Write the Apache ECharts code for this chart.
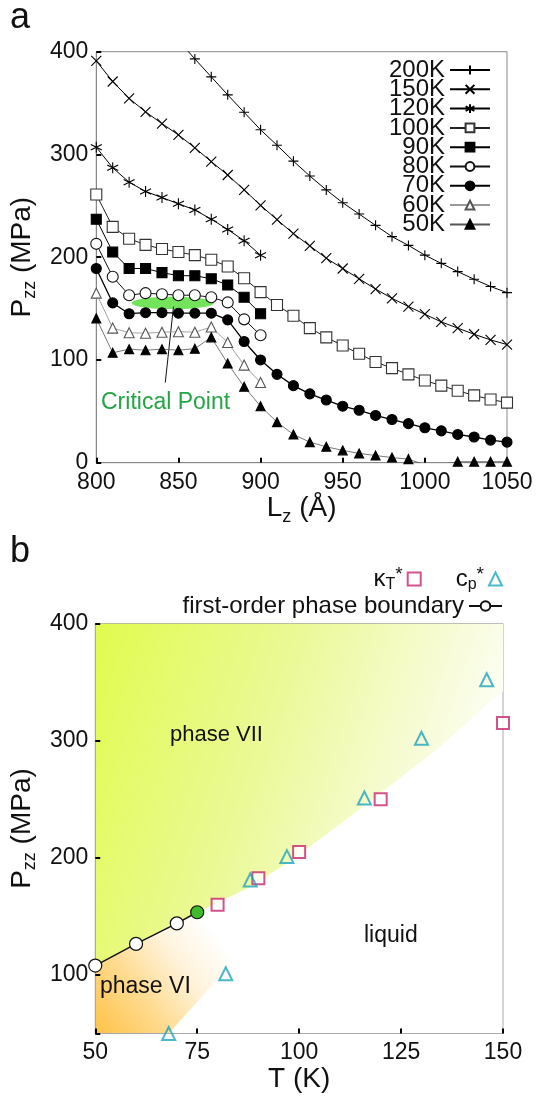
<!DOCTYPE html>
<html>
<head>
<meta charset="utf-8">
<script src="https://cdn.jsdelivr.net/npm/echarts@6/dist/echarts.min.js"></script>
<style>
  html, body { margin: 0; padding: 0; background: #fff; }
  #chart { width: 538px; height: 1100px; }
</style>
</head>
<body>
<div id="chart"></div>
<script>
// panel a: Pzz vs Lz isotherms
const lz = [800, 810, 820, 830, 840, 850, 860, 870, 880, 890, 900, 910, 920, 930, 940, 950, 960, 970, 980, 990, 1000, 1010, 1020, 1030, 1040, 1050];
const lzShort = [800, 810, 820, 830, 840, 850, 860, 870, 880, 890, 900];
const p200 = [null, null, null, null, null, 411, 393, 375.5, 358, 341, 324, 309, 293.5, 279, 265.5, 253, 242, 231, 220, 211.5, 202, 194, 186, 178.5, 171.5, 165.5];
const p150 = [391, 371, 354.5, 341.5, 330, 319, 306.5, 293, 280, 265.5, 250.5, 236.5, 223, 211, 199, 189, 179, 169, 160, 152, 144.5, 137, 131, 125, 119.5, 115];
const p120 = [307, 287, 273, 264, 258, 252, 246, 237, 227, 216, 202];
const p100 = [261, 229.5, 218, 212, 208, 205, 202, 197.5, 191, 179.5, 166, 153.5, 143, 131, 122, 114, 106, 98, 92, 86, 80, 75, 70, 65.5, 61.5, 58.5];
const p90 = [237, 205, 189, 189, 185, 182, 182, 179, 173, 161, 145];
const p80 = [213, 181, 163, 165, 164, 163, 163, 161, 156, 139.5, 124];
const p70 = [189, 155.5, 145, 146, 146, 145.5, 145.5, 145.5, 139, 118, 100, 86, 75, 67, 61, 55, 51, 46, 42, 38, 34, 31, 27.5, 25, 22, 20];
const p60 = [165, 131, 126.5, 126, 127, 127.5, 127, 132, 117, 95, 78];
const p50 = [140.5, 107, 110.5, 109.5, 110.5, 109.5, 111, 122, 96.5, 74, 55, 39.5, 27.5, 20, 15.5, 12, 9, 7, 5, 3.5, -2, -2, 1, 1, 1, 1];
// critical point ellipse: [Lz, Pzz, width in Å, height in MPa]
const criticalSpot = [[846.5, 155.5, 50, 12]];
const criticalPointer = [[847, 152], [842, 78]];

// panel b: phase diagram
const boundary = [[50, 108], [60, 126.5], [70, 144], [75, 153.5]];
const kappaT = [[80, 160], [90, 182.5], [100, 205], [120, 250], [150, 315]];
const cpPeak = [[68, 50], [82, 101], [88, 181], [97, 201], [116, 251], [130, 302], [146, 352]];
const phase7Region = [[50, 108], [60, 126.5], [70, 144], [75, 153.5], [88, 175], [98, 198], [109, 226], [121, 258], [134, 293], [148, 337], [150, 342], [150, 400], [50, 400]];
const phase6Region = [[50, 50], [50, 108], [60, 126.5], [70, 144], [75, 153.5], [84, 112], [68, 50]];

const FONT = 'Liberation Sans, Arial, sans-serif';

function zip(xs, ys) {
  return xs.map((x, i) => [x, ys[i]]);
}

const plusPath = 'path://M5,0L5,10M0,5L10,5';
const crossPath = 'path://M0,0L10,10M0,10L10,0';
const starPath = 'path://M5,0L5,10M0.7,2.5L9.3,7.5M0.7,7.5L9.3,2.5';

function iso(name, xs, ys, symbol, size, fill, stroke, lineColor, lineWidth) {
  return {
    name: name,
    type: 'line',
    xAxisIndex: 0,
    yAxisIndex: 0,
    data: zip(xs, ys),
    symbol: symbol,
    symbolSize: size,
    showSymbol: true,
    connectNulls: false,
    clip: true,
    lineStyle: { color: lineColor, width: lineWidth },
    itemStyle: { color: fill, borderColor: stroke, borderWidth: 1.1 },
    emphasis: { disabled: true },
    z: 5
  };
}

function regionSeries(points, gradient) {
  return {
    type: 'custom',
    xAxisIndex: 1,
    yAxisIndex: 1,
    silent: true,
    clip: true,
    z: 0,
    data: [[50, 50]],
    renderItem: function (params, api) {
      return {
        type: 'polygon',
        shape: { points: points.map(p => api.coord(p)) },
        style: { fill: gradient, stroke: null }
      };
    }
  };
}

const yellowFade = new echarts.graphic.LinearGradient(0, 0.1, 1, 0.5, [
  { offset: 0, color: '#e2fb52' },
  { offset: 0.45, color: '#ecf99a' },
  { offset: 0.8, color: '#f8fcdc' },
  { offset: 1, color: '#ffffff' }
]);
const orangeFade = new echarts.graphic.LinearGradient(0, 1, 0.9, 0.2, [
  { offset: 0, color: '#ffc247' },
  { offset: 0.35, color: '#ffd98a' },
  { offset: 0.7, color: '#fff3dc' },
  { offset: 1, color: '#ffffff' }
]);

const tickFormat = v => String(v);

const axisCommon = {
  axisLine: { lineStyle: { color: '#888', width: 1 } },
  axisTick: { inside: true, length: 5, lineStyle: { color: '#000', width: 2 } },
  axisLabel: { color: '#111', fontSize: 23, fontFamily: FONT, margin: 8, formatter: tickFormat },
  splitLine: { show: false }
};

const nameRich = {
  t: { fontSize: 28, fontFamily: FONT, color: '#111', lineHeight: 34 },
  s: { fontSize: 18, fontFamily: FONT, color: '#111', lineHeight: 18, verticalAlign: 'bottom' }
};

const legendNames = {
  kappaT: '{n|κ}{s|T}{u|*}',
  cp: '{n|c}{s|p}{u|*}',
  boundary: '{n|first-order phase boundary}'
};
const legendRich = {
  n: { fontSize: 24, fontFamily: FONT, color: '#111', lineHeight: 28 },
  s: { fontSize: 16, fontFamily: FONT, color: '#111', lineHeight: 16, verticalAlign: 'bottom' },
  u: { fontSize: 19, fontFamily: FONT, color: '#111', lineHeight: 19, verticalAlign: 'top' }
};

const chart = echarts.init(document.getElementById('chart'), null, { renderer: 'canvas' });

chart.setOption({
  animation: false,
  backgroundColor: '#fff',
  grid: [
    { left: 95, top: 51.7, width: 412, height: 411, show: true, borderColor: '#888', borderWidth: 1, backgroundColor: 'transparent' },
    { left: 93, top: 623.5, width: 410, height: 410, show: true, borderColor: '#aaa', borderWidth: 1, backgroundColor: 'transparent' }
  ],
  xAxis: [
    Object.assign({}, axisCommon, {
      type: 'value', gridIndex: 0, min: 800, max: 1050, interval: 50,
      name: '{t|L}{s|z}{t| (Å)}', nameLocation: 'middle', nameGap: 25,
      nameTextStyle: { rich: nameRich }
    }),
    Object.assign({}, axisCommon, {
      type: 'value', gridIndex: 1, min: 50, max: 150, interval: 25,
      axisLine: { lineStyle: { color: '#aaa', width: 1 } },
      name: '{t|T (K)}', nameLocation: 'middle', nameGap: 29,
      nameTextStyle: { rich: nameRich }
    })
  ],
  yAxis: [
    Object.assign({}, axisCommon, {
      type: 'value', gridIndex: 0, min: 0, max: 400, interval: 100,
      name: '{t|P}{s|zz}{t| (MPa)}', nameLocation: 'middle', nameGap: 39,
      nameTextStyle: { rich: nameRich }
    }),
    Object.assign({}, axisCommon, {
      type: 'value', gridIndex: 1, min: 50, max: 400, interval: 50,
      axisLine: { lineStyle: { color: '#aaa', width: 1 } },
      axisTick: { inside: true, length: 5, lineStyle: { color: '#000', width: 2 }, customValues: [50, 100, 200, 300, 400] },
      axisLabel: { color: '#111', fontSize: 23, fontFamily: FONT, margin: 7, customValues: [100, 200, 300, 400] },
      name: '{t|P}{s|zz}{t| (MPa)}', nameLocation: 'middle', nameGap: 36,
      nameTextStyle: { rich: nameRich }
    })
  ],
  legend: [
    {
      data: ['200K', '150K', '120K', '100K', '90K', '80K', '70K', '60K', '50K'],
      orient: 'vertical', align: 'right', right: 47, top: 58, padding: 0,
      itemWidth: 40, itemHeight: 11, itemGap: -4.7,
      textStyle: { fontSize: 24, fontFamily: FONT, color: '#111', lineHeight: 19.3 },
      selectedMode: false
    },
    {
      data: ['kappaT', 'cp'],
      orient: 'horizontal', align: 'right', right: 35, top: 565, padding: 0,
      itemWidth: 13, itemHeight: 13, itemGap: 34,
      formatter: name => legendNames[name],
      textStyle: { rich: legendRich },
      selectedMode: false
    },
    {
      data: ['boundary'],
      orient: 'horizontal', align: 'right', right: 35, top: 594, padding: 0,
      itemWidth: 33, itemHeight: 12,
      formatter: name => legendNames[name],
      textStyle: { rich: legendRich },
      selectedMode: false
    }
  ],
  series: [
    {
      type: 'custom',
      xAxisIndex: 0, yAxisIndex: 0,
      silent: true, z: 1,
      data: criticalSpot,
      renderItem: function (params, api) {
        const c = api.coord([api.value(0), api.value(1)]);
        const sz = api.size([api.value(2), api.value(3)]);
        return {
          type: 'ellipse',
          shape: { cx: c[0], cy: c[1], rx: sz[0] / 2, ry: sz[1] / 2 },
          style: { fill: '#72e35a', stroke: null }
        };
      }
    },
    {
      type: 'line', xAxisIndex: 0, yAxisIndex: 0, data: criticalPointer,
      symbol: 'none', silent: true, z: 2,
      lineStyle: { color: '#111', width: 1 }
    },
    iso('200K', lz, p200, plusPath, 10, '#000', '#000', '#000', 1),
    iso('150K', lz, p150, crossPath, 10, '#000', '#000', '#000', 1),
    iso('120K', lzShort, p120, starPath, 11, '#000', '#000', '#000', 1),
    iso('100K', lz, p100, 'rect', 11, '#fff', '#333', '#222', 1),
    iso('90K', lzShort, p90, 'rect', 10, '#000', '#000', '#000', 1),
    iso('80K', lzShort, p80, 'circle', 11, '#fff', '#111', '#111', 1),
    iso('70K', lz, p70, 'circle', 10, '#000', '#000', '#000', 1.3),
    iso('60K', lzShort, p60, 'triangle', 10, '#fff', '#555', '#999', 0.9),
    iso('50K', lz, p50, 'triangle', 9, '#000', '#000', '#555', 0.8),

    regionSeries(phase7Region, yellowFade),
    regionSeries(phase6Region, orangeFade),
    {
      name: 'boundary', type: 'line', xAxisIndex: 1, yAxisIndex: 1,
      data: boundary.map((p, i) => i === boundary.length - 1
        ? { value: p, itemStyle: { color: '#3dbb2a' } }
        : { value: p }),
      symbol: 'circle', symbolSize: 13, z: 5,
      lineStyle: { color: '#111', width: 1.5 },
      itemStyle: { color: '#fff', borderColor: '#111', borderWidth: 1.2 },
      emphasis: { disabled: true }
    },
    {
      name: 'kappaT', type: 'scatter', xAxisIndex: 1, yAxisIndex: 1,
      data: kappaT, symbol: 'rect', symbolSize: 12, z: 6,
      itemStyle: { color: '#fff', borderColor: '#c8276f', borderWidth: 2 },
      emphasis: { disabled: true }
    },
    {
      name: 'cp', type: 'scatter', xAxisIndex: 1, yAxisIndex: 1,
      data: cpPeak, symbol: 'triangle', symbolSize: 13, z: 6,
      itemStyle: { color: 'rgba(255,255,255,0)', borderColor: '#1ea5be', borderWidth: 2 },
      emphasis: { disabled: true }
    }
  ],
  graphic: [
    { type: 'text', left: 10, top: 0, style: { text: 'a', fontSize: 36, fontFamily: FONT, fill: '#111' } },
    { type: 'text', left: 10, top: 534, style: { text: 'b', fontSize: 36, fontFamily: FONT, fill: '#111' } },
    { type: 'text', left: 101, top: 391, style: { text: 'Critical Point', fontSize: 23, fontFamily: FONT, fill: '#22a544' } },
    { type: 'text', left: 170, top: 724, z: 10, style: { text: 'phase VII', fontSize: 22, fontFamily: FONT, fill: '#111' } },
    { type: 'text', left: 100, top: 975, z: 10, style: { text: 'phase VI', fontSize: 23, fontFamily: FONT, fill: '#111' } },
    { type: 'text', left: 364, top: 924, z: 10, style: { text: 'liquid', fontSize: 23, fontFamily: FONT, fill: '#111' } }
  ]
});
</script>
</body>
</html>
